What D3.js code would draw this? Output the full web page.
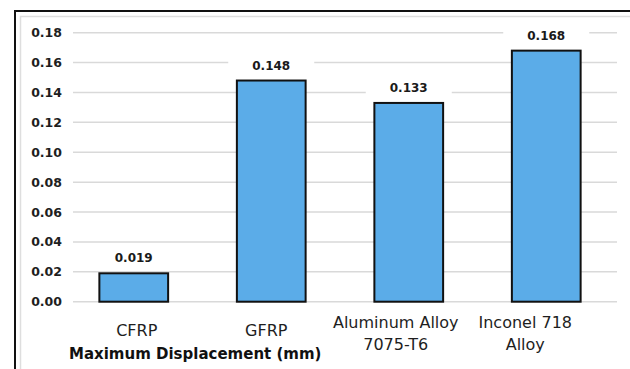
<!DOCTYPE html>
<html>
<head>
<meta charset="utf-8">
<script src="https://cdn.jsdelivr.net/npm/d3@7"></script>
<style>
  html, body { margin: 0; padding: 0; background: #fff; }
  svg { display: block; }
</style>
</head>
<body>
<svg id="chart" width="630" height="369"></svg>
<script>
// Maximum displacement per material (mm)
const materials = ["CFRP", "GFRP", "Aluminum Alloy\n7075-T6", "Inconel 718\nAlloy"];
const displacement = [0.019, 0.148, 0.133, 0.168];
const yTicks = [0, 0.02, 0.04, 0.06, 0.08, 0.10, 0.12, 0.14, 0.16, 0.18];
const axisTitle = "Maximum Displacement (mm)";

const svg = d3.select("#chart");
const W = 630, H = 369;

svg.append("rect").attr("width", W).attr("height", H).attr("fill", "#fff");

// frame: outer dark rule and inner light rule
svg.append("path")
  .attr("d", `M15,${H} V11 H${W}`)
  .attr("fill", "none").attr("stroke", "#111").attr("stroke-width", 2);
svg.append("path")
  .attr("d", `M20.5,${H} V16.5 H${W}`)
  .attr("fill", "none").attr("stroke", "#dedede").attr("stroke-width", 1.5);

const plotLeft = 73, plotRight = 617;
const y = d3.scaleLinear().domain([0, 0.18]).range([301.7, 32.7]);
const x = d3.scaleBand().domain(materials).range([65, 615])
  .paddingInner(0.5).paddingOuter(0.25);
// category text sits on its own band layout under the bars
const xLabel = d3.scaleBand().domain(materials).range([72, 590]);

// gridlines
svg.append("g").selectAll("line").data(yTicks).join("line")
  .attr("x1", plotLeft).attr("x2", plotRight)
  .attr("y1", d => y(d)).attr("y2", d => y(d))
  .attr("stroke", "#d9d9d9").attr("stroke-width", 1.5);

// y axis tick labels
const yAxis = d3.axisLeft(y).tickValues(yTicks).tickFormat(d3.format(".2f")).tickSize(0).tickPadding(0);
const gy = svg.append("g").attr("transform", "translate(62,0)").call(yAxis);
gy.select(".domain").remove();
gy.selectAll("text")
  .attr("font-family", "DejaVu Sans, sans-serif")
  .attr("font-weight", "bold").attr("font-size", 12.5)
  .attr("fill", "#1e1e1e");

// bars
svg.append("g").selectAll("rect").data(displacement).join("rect")
  .attr("x", (d, i) => x(materials[i]))
  .attr("width", x.bandwidth())
  .attr("y", d => y(d))
  .attr("height", d => y(0) - y(d))
  .attr("fill", "#5BACE8")
  .attr("stroke", "#111").attr("stroke-width", 2);

// value labels with white backing
const vl = svg.append("g").selectAll("g").data(displacement).join("g")
  .attr("transform", (d, i) => `translate(${x(materials[i]) + x.bandwidth() / 2},${y(d) - 11})`);
vl.append("rect")
  .attr("x", -43).attr("y", -14).attr("width", 86).attr("height", 18)
  .attr("fill", "#fff");
vl.append("text")
  .attr("text-anchor", "middle")
  .attr("font-family", "DejaVu Sans, sans-serif")
  .attr("font-weight", "bold").attr("font-size", 12)
  .attr("fill", "#1a1a1a")
  .text(d => d.toFixed(3));

// category labels
const cat = svg.append("g").selectAll("text").data(materials).join("text")
  .attr("text-anchor", "middle")
  .attr("font-family", "DejaVu Sans, sans-serif")
  .attr("font-size", 16)
  .attr("fill", "#1e1e1e");
cat.each(function (d) {
  const lines = d.split("\n");
  const cx = xLabel(d) + xLabel.bandwidth() / 2;
  const top = 336 - (lines.length - 1) * 8;
  d3.select(this).selectAll("tspan").data(lines).join("tspan")
    .attr("x", cx)
    .attr("y", (l, j) => top + j * 22)
    .text(l => l);
});

// axis title
svg.append("text")
  .attr("x", 69).attr("y", 359)
  .attr("font-family", "DejaVu Sans, sans-serif")
  .attr("font-weight", "bold").attr("font-size", 15)
  .attr("fill", "#111")
  .text(axisTitle);
</script>
</body>
</html>
